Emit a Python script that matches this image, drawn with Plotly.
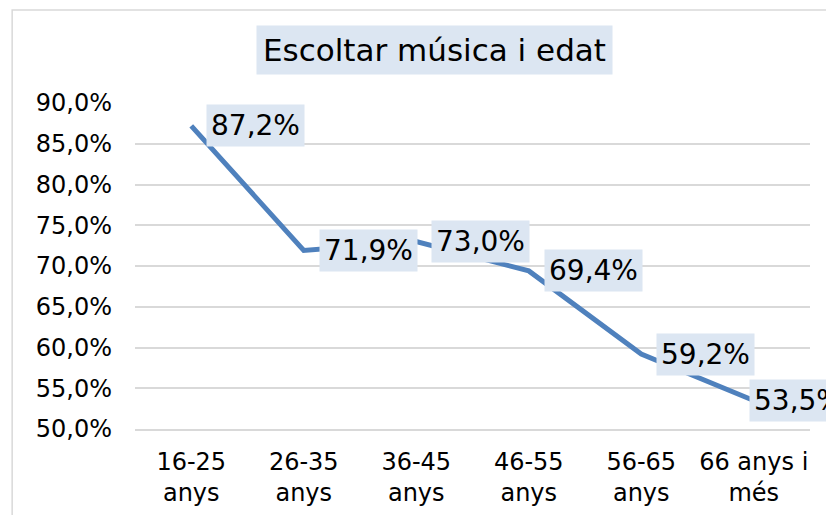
import plotly.graph_objects as go

categories = ["16-25<br>anys", "26-35<br>anys", "36-45<br>anys", "46-55<br>anys", "56-65<br>anys", "66 anys i<br>més"]
values = [87.2, 71.9, 73.0, 69.4, 59.2, 53.5]
y_ticks = [50, 55, 60, 65, 70, 75, 80, 85, 90]
title_text = "Escoltar música i edat"

LINE = "#4F81BD"
BOX = "#DCE6F2"
GRID = "#D9D9D9"


def pct(v):
    return f"{v:.1f}%".replace(".", ",")


fig = go.Figure()
fig.add_trace(go.Scatter(
    x=categories, y=values, mode="lines",
    line=dict(color=LINE, width=5),
    hoverinfo="skip", showlegend=False,
))

annotations = []
n = len(categories)
for i, (c, v) in enumerate(zip(categories, values)):
    # last label is pushed back left against the chart edge, as in the original
    shift = -5 if i == n - 1 else 15
    annotations.append(dict(
        x=c, y=v, xref="x", yref="y",
        text=pct(v),
        showarrow=False, xanchor="left", yanchor="middle",
        xshift=shift, bgcolor=BOX, borderpad=4,
        font=dict(family="DejaVu Sans", size=28, color="#000000"),
    ))
annotations.append(dict(
    x=0.443, y=1.163, xref="paper", yref="paper",
    text=title_text, showarrow=False, xanchor="center", yanchor="middle",
    bgcolor=BOX, borderpad=6,
    font=dict(family="DejaVu Sans", size=31, color="#000000"),
))

fig.update_layout(
    width=834, height=515,
    margin=dict(l=127, r=32, t=95, b=94, autoexpand=False),
    paper_bgcolor="white", plot_bgcolor="white",
    annotations=annotations,
    shapes=[dict(type="rect", xref="paper", yref="paper",
                 x0=-0.182, x1=1.08, y0=-0.35, y1=1.285,
                 line=dict(color=GRID, width=1.5), fillcolor="rgba(0,0,0,0)", layer="below")],
    xaxis=dict(
        range=[-0.5, 5.5], automargin=False,
        showgrid=False, showline=True, linecolor=GRID, linewidth=1.5,
        ticks="", ticklabelstandoff=10,
        tickfont=dict(family="DejaVu Sans", size=24, color="#000000"),
        fixedrange=True,
    ),
    yaxis=dict(
        range=[50, 90], automargin=False,
        tickvals=y_ticks, ticktext=[pct(t) for t in y_ticks],
        showgrid=True, gridcolor=GRID, gridwidth=1.5, zeroline=False, showline=False,
        ticks="", ticklabelstandoff=22,
        tickfont=dict(family="DejaVu Sans", size=24, color="#000000"),
        fixedrange=True,
    ),
)

fig.write_html("out.html")
